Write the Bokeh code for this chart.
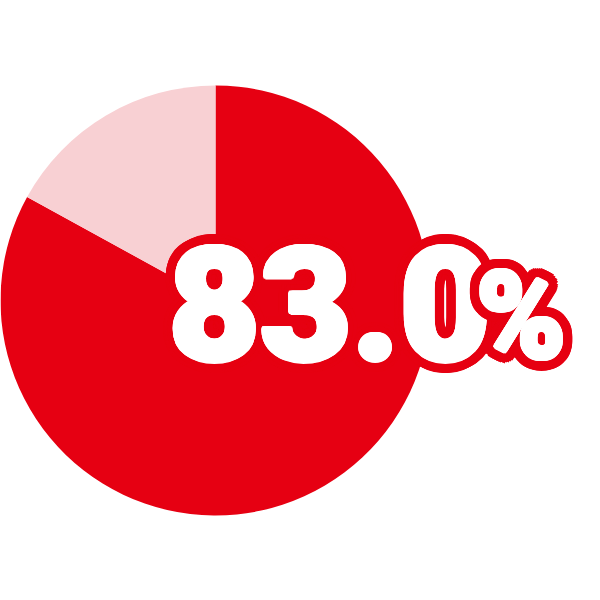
import numpy as np
from bokeh.plotting import figure
from bokeh.models import Range1d, ColumnDataSource
from bokeh.core.properties import value
from bokeh.embed import file_html
from bokeh.resources import INLINE

categories = ["yes", "no"]
share = [83.0, 17.0]
colors = ["#E60012", "#F8D0D3"]
label_main = f"{share[0]:.1f}"
label_pct = "%"

p = figure(width=584, height=584, output_backend="svg", toolbar_location=None,
           x_range=Range1d(0, 584), y_range=Range1d(16, 600))
p.axis.visible = False
p.grid.visible = False
p.outline_line_color = None
p.min_border = 0
p.background_fill_color = "white"
p.border_fill_color = "white"

# wedges: start at 12 o'clock, go clockwise
fr = np.array(share) / sum(share)
cum = np.concatenate([[0], np.cumsum(fr)])
starts = [np.pi / 2 - 2 * np.pi * cum[i + 1] for i in range(len(share))]
ends = [np.pi / 2 - 2 * np.pi * cum[i] for i in range(len(share))]
src = ColumnDataSource(dict(cat=categories, start=starts, end=ends, color=colors))
p.wedge(x=215, y=300, radius=215, start_angle="start", end_angle="end",
        fill_color="color", line_color=None, source=src)

font = value("Roboto Black")


def ring(radii, n):
    ang = np.linspace(0, 2 * np.pi, n, endpoint=False)
    xs, ys = [], []
    for r in radii:
        xs += list(r * np.cos(ang))
        ys += list(r * np.sin(ang))
    return xs, ys


oxo, oyo = ring((12, 8, 4), 36)
wxo, wyo = ring((2.5, 1.2), 16)
wxo += [0]
wyo += [0]

for txt, x, y, fs in [(label_main, 168, 298, "158px"), (label_pct, 476, 284, "120px")]:
    m = len(oxo)
    p.text(x=[x] * m, y=[y] * m, text=[txt] * m, x_offset=oxo, y_offset=oyo,
           text_font=font, text_font_style="bold", text_font_size=fs,
           text_color="#E60012", text_align="left", text_baseline="alphabetic")
    k = len(wxo)
    p.text(x=[x] * k, y=[y] * k, text=[txt] * k, x_offset=wxo, y_offset=wyo,
           text_font=font, text_font_style="bold", text_font_size=fs,
           text_color="white", text_align="left", text_baseline="alphabetic")

open("out.html", "w").write(file_html(p, INLINE))
